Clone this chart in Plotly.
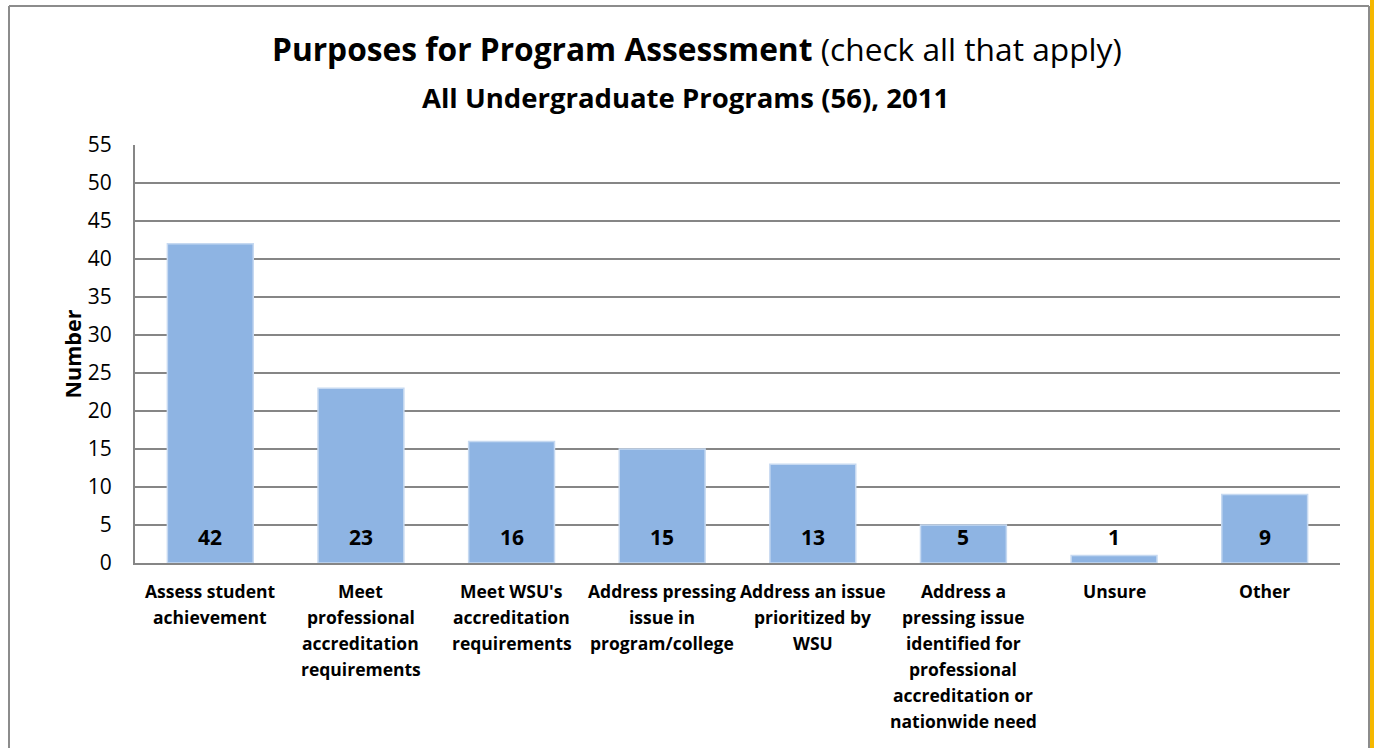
import plotly.graph_objects as go

# Survey counts per purpose
categories = [
    "Assess student\nachievement",
    "Meet\nprofessional\naccreditation\nrequirements",
    "Meet WSU's\naccreditation\nrequirements",
    "Address pressing\nissue in\nprogram/college",
    "Address an issue\nprioritized by\nWSU",
    "Address a\npressing issue\nidentified for\nprofessional\naccreditation or\nnationwide need",
    "Unsure",
    "Other",
]
counts = [42, 23, 16, 15, 13, 5, 1, 9]
y_ticks = list(range(0, 56, 5))

FONT = "Open Sans, Lato, sans-serif"
GRID = "#868686"

x_keys = [c.replace("\n", " ") for c in categories]

fig = go.Figure()
fig.add_trace(go.Bar(
    x=x_keys,
    y=counts,
    marker=dict(color="#8eb4e3", line=dict(color="#c6d9f1", width=1.5)),
    hoverinfo="x+y",
))

annotations = []
# value labels near the base of each bar
for key, v in zip(x_keys, counts):
    annotations.append(dict(
        x=key, y=3.4, xref="x", yref="y", text=f"<b>{v}</b>",
        showarrow=False, font=dict(family=FONT, size=21, color="black"),
    ))
# category labels, one line per annotation for Excel-like spacing
for key, label in zip(x_keys, categories):
    for i, line in enumerate(label.split("\n")):
        annotations.append(dict(
            x=key, y=0, xref="x", yref="paper", text=f"<b>{line}</b>",
            showarrow=False, yanchor="middle",
            yshift=-(28 + 26 * i),
            font=dict(family=FONT, size=17.5, color="black"),
        ))

# titles
annotations.append(dict(
    x=0.5, y=1.0, xref="paper", yref="paper", yanchor="middle", yshift=97, xshift=-41,
    text="<b>Purposes for Program Assessment</b> (check all that apply)",
    showarrow=False, font=dict(family=FONT, size=31.7, color="black"),
))
annotations.append(dict(
    x=0.5, y=1.0, xref="paper", yref="paper", yanchor="middle", yshift=48, xshift=-52,
    text="<b>All Undergraduate Programs (56), 2011</b>",
    showarrow=False, font=dict(family=FONT, size=27.5, color="black"),
))

L, R, T, B = 135, 37, 145, 185
W, H = 1377, 748
pw, ph = W - L - R, H - T - B

def px(x):
    return (x - L) / pw

def py(y):
    return (H - B - y) / ph

shapes = [
    dict(type="line", xref="paper", yref="paper", x0=px(9), x1=px(9), y0=py(6), y1=py(760),
         line=dict(color="#8c8c8c", width=2)),
    dict(type="line", xref="paper", yref="paper", x0=px(9), x1=px(1369), y0=py(6), y1=py(6),
         line=dict(color="#8c8c8c", width=2)),
    dict(type="line", xref="paper", yref="paper", x0=px(1369), x1=px(1369), y0=py(6), y1=py(760),
         line=dict(color="#8c8c8c", width=2)),
    dict(type="line", xref="paper", yref="paper", x0=px(1372), x1=px(1372), y0=py(0), y1=py(760),
         line=dict(color="#f5b800", width=4)),
]

fig.update_layout(
    width=W, height=H,
    margin=dict(l=L, r=R, t=T, b=B),
    paper_bgcolor="white", plot_bgcolor="white",
    bargap=0.43,
    showlegend=False,
    font=dict(family=FONT, color="black"),
    xaxis=dict(
        showticklabels=False, showgrid=False, zeroline=False,
        showline=True, linecolor=GRID, linewidth=2,
    ),
    yaxis=dict(
        range=[0, 55], tickvals=y_ticks, ticktext=[str(t) for t in y_ticks],
        showgrid=True, gridcolor=GRID, gridwidth=1.5, zeroline=False,
        showline=True, linecolor=GRID, linewidth=2,
        tickfont=dict(family=FONT, size=21, color="black"), ticks="",
        ticklabelstandoff=17,
        title=dict(text="<b>Number</b>", font=dict(family=FONT, size=21.5, color="black"), standoff=0),
    ),
    annotations=annotations,
    shapes=shapes,
)

fig.write_html("out.html")
